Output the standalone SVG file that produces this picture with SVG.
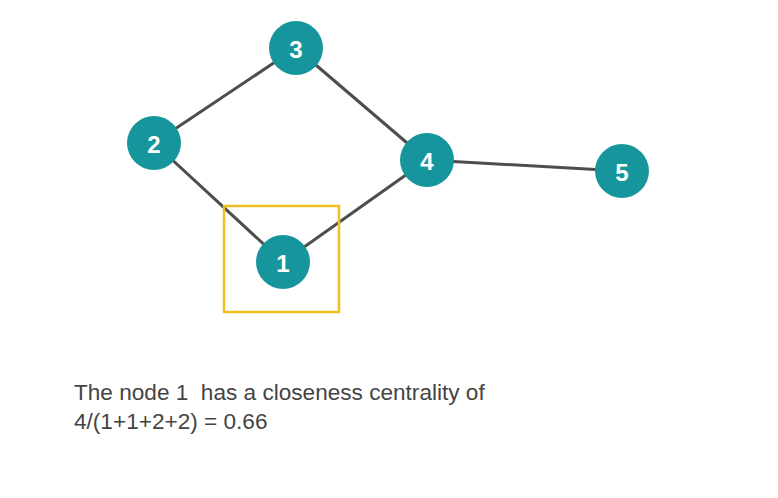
<svg xmlns="http://www.w3.org/2000/svg" width="778" height="498" viewBox="0 0 778 498">
<style>
.edge{stroke:#4d4d4d;stroke-width:3;fill:none}
.node circle{fill:#16969c}
.node text{fill:#fff;font-family:"Liberation Sans",Arial,sans-serif;font-weight:bold;font-size:24px;text-anchor:middle;dominant-baseline:central}
.cap{fill:#444;font-family:"Liberation Sans",Arial,sans-serif;font-size:22.6px}
</style>
<rect width="778" height="498" fill="#fff"/>
<g id="connectors">
<line class="edge" x1="296" y1="48" x2="154" y2="143"/>
<line class="edge" x1="296" y1="48" x2="427" y2="160"/>
<line class="edge" x1="154" y1="143" x2="283" y2="262"/>
<line class="edge" x1="427" y1="160" x2="283" y2="262"/>
<line class="edge" x1="427" y1="160" x2="622" y2="171"/>
</g>
<rect id="highlight" x="224" y="206" width="115" height="106" fill="none" stroke="#f0c020" stroke-width="2.5"/>
<g id="node3" class="node"><circle cx="296" cy="48" r="27"/><text x="296" y="49">3</text></g>
<g id="node2" class="node"><circle cx="154" cy="143" r="27"/><text x="154" y="144">2</text></g>
<g id="node4" class="node"><circle cx="427" cy="160" r="27"/><text x="427" y="161">4</text></g>
<g id="node5" class="node"><circle cx="622" cy="171" r="27"/><text x="622" y="172">5</text></g>
<g id="node1" class="node"><circle cx="283" cy="262" r="27"/><text x="283" y="263">1</text></g>
<text class="cap" x="74" y="400" xml:space="preserve">The node 1  has a closeness centrality of</text>
<text class="cap" x="74" y="429">4/(1+1+2+2) = 0.66</text>
</svg>
